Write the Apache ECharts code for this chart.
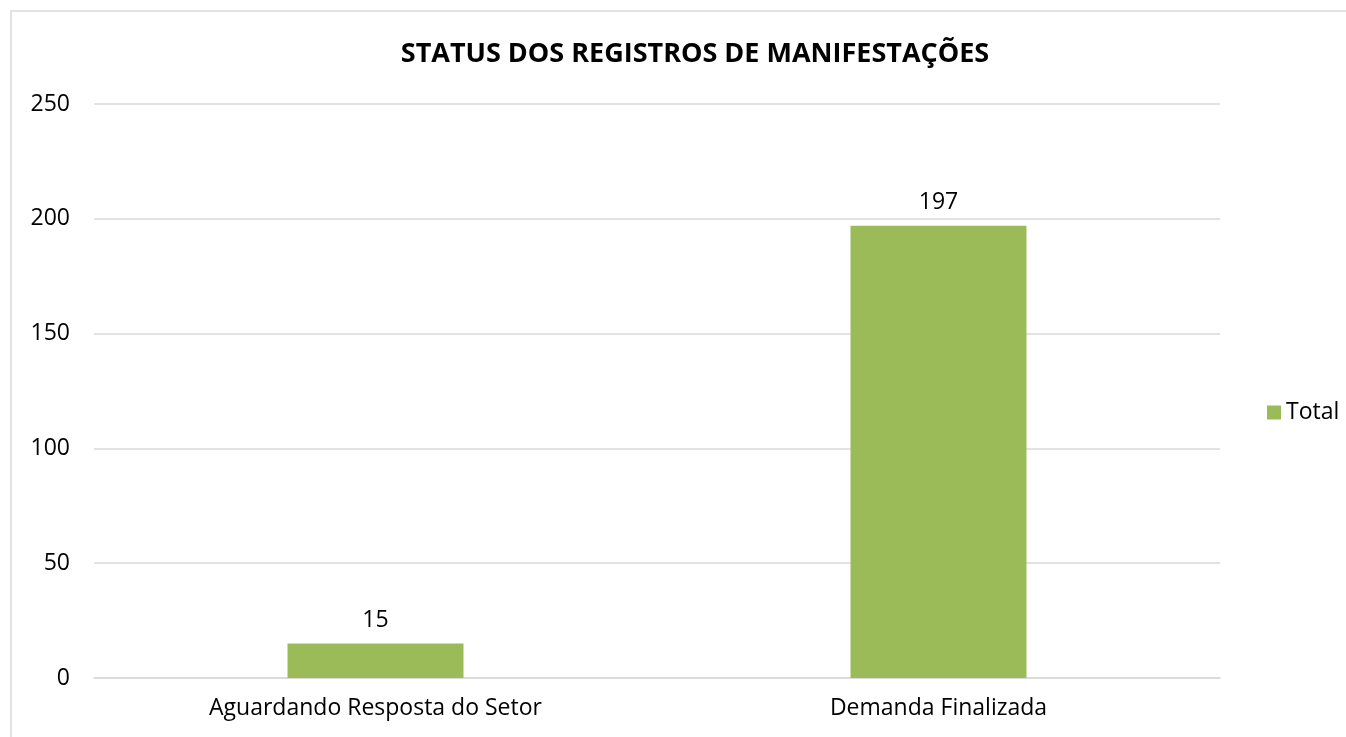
<!DOCTYPE html>
<html>
<head>
<meta charset="utf-8">
<script src="https://cdn.jsdelivr.net/npm/echarts@6/dist/echarts.min.js"></script>
<style>
    html, body { margin: 0; padding: 0; background: #ffffff; }
    #main { width: 1346px; height: 737px; }
</style>
</head>
<body>
<div id="main"></div>
<script>
// dados do gráfico
const categorias = ['Aguardando Resposta do Setor', 'Demanda Finalizada'];
const totais = [15, 197];
const serieNome = 'Total';
const titulo = 'STATUS DOS REGISTROS DE MANIFESTAÇÕES';

const fonte = '"Open Sans", "Noto Sans", sans-serif';
const chart = echarts.init(document.getElementById('main'));

chart.setOption({
    animation: false,
    textStyle: { fontFamily: fonte },
    // moldura cinza do gráfico
    graphic: [{
        type: 'rect',
        shape: { x: 11, y: 11, width: 1400, height: 800 },
        style: { fill: 'none', stroke: '#d9d9d9', lineWidth: 1.5 },
        silent: true
    }],
    title: {
        text: titulo,
        left: 690,
        textAlign: 'center',
        top: 36,
        textStyle: { fontSize: 27, fontWeight: 'bold', color: '#000', fontFamily: fonte }
    },
    legend: {
        data: [serieNome],
        orient: 'vertical',
        left: 1262,
        top: 396,
        itemWidth: 14,
        itemHeight: 14,
        itemGap: 6,
        icon: 'rect',
        textStyle: { fontSize: 23, color: '#000', fontFamily: fonte }
    },
    grid: { left: 94, right: 126, top: 104, bottom: 59 },
    xAxis: {
        type: 'category',
        data: categorias,
        axisTick: { show: false },
        axisLine: { lineStyle: { color: '#d9d9d9', width: 1.5 } },
        axisLabel: { fontSize: 23, color: '#000', margin: 19, fontFamily: fonte }
    },
    yAxis: {
        type: 'value',
        min: 0,
        max: 250,
        interval: 50,
        axisLine: { show: false },
        axisTick: { show: false },
        splitLine: { lineStyle: { color: '#d9d9d9', width: 1.5 } },
        axisLabel: { fontSize: 23, color: '#000', margin: 24, fontFamily: fonte }
    },
    series: [{
        name: serieNome,
        type: 'bar',
        data: totais,
        barWidth: 176,
        itemStyle: { color: '#9bbb59' },
        label: {
            show: true,
            position: 'top',
            distance: 12,
            fontSize: 23,
            color: '#000',
            fontFamily: fonte
        }
    }]
});
</script>
</body>
</html>
